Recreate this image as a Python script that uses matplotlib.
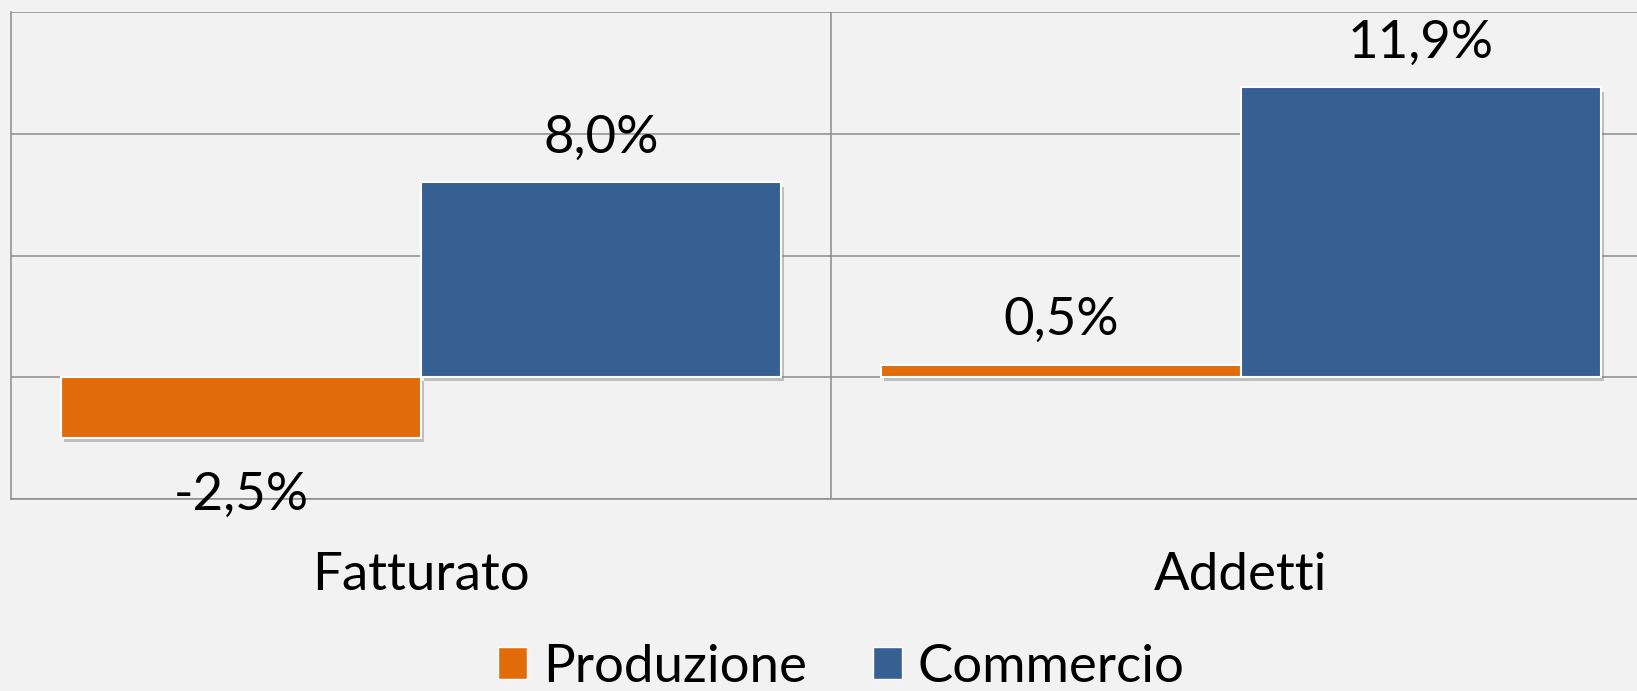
import matplotlib
matplotlib.use("Agg")
import matplotlib.pyplot as plt
import matplotlib.patheffects as pe
from matplotlib.patches import Patch
import numpy as np

categories = ["Fatturato", "Addetti"]
series_names = ["Produzione", "Commercio"]
produzione = [-2.5, 0.5]
commercio = [8.0, 11.9]
labels_prod = ["-2,5%", "0,5%"]
labels_comm = ["8,0%", "11,9%"]

colors = ["#E36C0A", "#366092"]
bg = "#F2F2F2"
grid_c = "#8C8C8C"
FONT = "Lato"
FS = 38

plt.rcParams["font.family"] = [FONT, "DejaVu Sans"]

fig = plt.figure(figsize=(16.37, 6.91), dpi=100, facecolor=bg)
ax = fig.add_axes([11 / 1637, 1 - 499 / 691, 1640 / 1637, 487 / 691])
ax.set_facecolor(bg)

x = np.arange(len(categories))
w = 0.439
shadow = [pe.SimplePatchShadow(offset=(2, -3), shadow_rgbFace="#7F7F7F", alpha=0.45), pe.Normal()]

b1 = ax.bar(x - w / 2, produzione, w, color=colors[0], edgecolor="white", linewidth=1.5,
            zorder=3, path_effects=shadow)
b2 = ax.bar(x + w / 2, commercio, w, color=colors[1], edgecolor="white", linewidth=1.5,
            zorder=3, path_effects=shadow)

for bars, labs in [(b1, labels_prod), (b2, labels_comm)]:
    for rect, lab in zip(bars, labs):
        h = rect.get_height()
        cx = rect.get_x() + rect.get_width() / 2
        if h >= 0:
            ax.annotate(lab, (cx, h), xytext=(0, 21.5), textcoords="offset points",
                        ha="center", va="baseline", fontsize=FS, color="black", zorder=5)
        else:
            ax.annotate(lab, (cx, h), xytext=(0, -52), textcoords="offset points",
                        ha="center", va="baseline", fontsize=FS, color="black", zorder=5)

ax.set_xlim(-0.5, 1.5)
ax.set_ylim(-5, 15)
ax.set_yticks([-5, 0, 5, 10, 15])
ax.set_yticklabels([])
ax.set_xticks(x)
ax.set_xticklabels(categories, fontsize=FS)
ax.tick_params(axis="x", length=0, pad=38)
ax.tick_params(axis="y", length=0)
ax.grid(axis="y", color=grid_c, linewidth=1.1, zorder=0)
ax.axvline(0.5, color=grid_c, linewidth=1.1, zorder=0)
for s in ["top", "right"]:
    ax.spines[s].set_visible(False)
for s in ["left", "bottom"]:
    ax.spines[s].set_color(grid_c)
    ax.spines[s].set_linewidth(1.1)

handles = [Patch(facecolor=c, edgecolor="white", linewidth=1.0) for c in colors]
fig.legend(handles, series_names, loc="center", bbox_to_anchor=(0.514, 1 - 667 / 691),
           ncol=2, frameon=False, fontsize=FS, handlelength=0.55, handleheight=0.55,
           handletextpad=0.3, columnspacing=1.25, borderpad=0, borderaxespad=0)

fig.savefig("out.png", dpi=100, facecolor=bg)
